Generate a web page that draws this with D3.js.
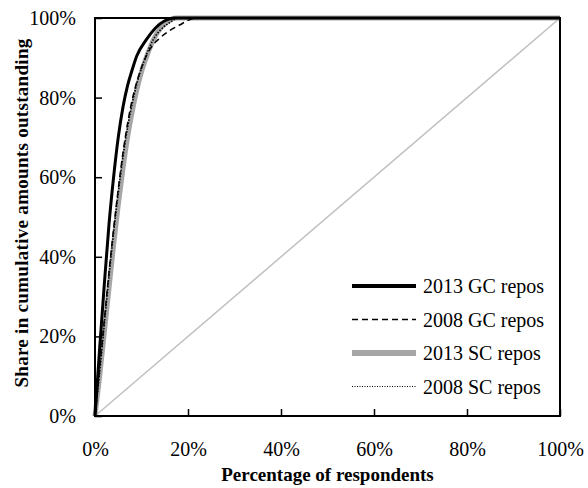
<!DOCTYPE html>
<html>
<head>
<meta charset="utf-8">
<script src="https://cdn.jsdelivr.net/npm/d3@7"></script>
<style>
  body { margin: 0; background: #fff; }
  svg text { font-family: "Liberation Serif", "Times New Roman", serif; fill: #000; }
</style>
</head>
<body>
<div id="chart"></div>
<script>
// cumulative distribution: share of respondents (x) vs share of amounts outstanding (y), in %
const gc2013X = [0, 1, 2, 3, 4, 5, 6, 7, 8, 9, 11, 13, 15, 17, 100];
const gc2013Y = [0, 17, 33, 48, 60, 70, 77.5, 83, 87, 90.5, 94.5, 97.5, 99.3, 100, 100];

const gc2008X = [0, 1, 2, 3, 4, 5, 6, 7, 8, 9, 10.3, 12, 13.8, 16, 18.3, 20, 22, 100];
const gc2008Y = [0, 12, 24, 36, 47, 57, 66, 73.5, 79.5, 84, 88.5, 92.5, 94.8, 96.8, 98.3, 99.4, 100, 100];

const sc2013X = [0, 1, 2, 3, 4, 5, 6, 7, 8, 9, 10, 11, 12, 13.5, 15.5, 17.5, 100];
const sc2013Y = [0, 10, 21, 32, 43, 53, 62, 70, 76.5, 82, 86.5, 90, 93, 96.5, 99, 100, 100];

const sc2008X = [0, 1, 2, 3, 4, 5, 6, 7, 8, 9, 10.5, 12.5, 14.5, 16, 18, 100];
const sc2008Y = [0, 11, 23, 35, 46, 56, 65, 72.5, 78.5, 83.5, 89, 94.5, 97.5, 98.8, 100, 100];

const equalityLine = [0, 100];
const xTicks = [0, 20, 40, 60, 80, 100];
const yTicks = [0, 20, 40, 60, 80, 100];

const width = 588, height = 488;
const margin = { top: 18, right: 28, bottom: 72, left: 95 };

const svg = d3.select('#chart').append('svg')
    .attr('width', width)
    .attr('height', height);

const x = d3.scaleLinear().domain([0, 100]).range([margin.left, width - margin.right]);
const y = d3.scaleLinear().domain([0, 100]).range([height - margin.bottom, margin.top]);

const fmt = d => d + '%';

// diagonal
svg.append('line')
    .attr('x1', x(equalityLine[0])).attr('y1', y(equalityLine[0]))
    .attr('x2', x(equalityLine[1])).attr('y2', y(equalityLine[1]))
    .attr('stroke', '#c0c0c0')
    .attr('stroke-width', 1.5);

const series = [
    { name: '2013 SC repos', xs: sc2013X, ys: sc2013Y, color: '#a6a6a6', w: 5, dash: null },
    { name: '2013 GC repos', xs: gc2013X, ys: gc2013Y, color: '#000', w: 3, dash: null },
    { name: '2008 GC repos', xs: gc2008X, ys: gc2008Y, color: '#000', w: 1.5, dash: '6,4' },
    { name: '2008 SC repos', xs: sc2008X, ys: sc2008Y, color: '#000', w: 1.6, dash: '1.5,1.5' }
];

const line = d3.line()
    .x(d => x(d[0]))
    .y(d => y(d[1]))
    .curve(d3.curveMonotoneX);

series.forEach(s => {
    svg.append('path')
        .datum(s.xs.map((v, i) => [v, s.ys[i]]))
        .attr('fill', 'none')
        .attr('stroke', s.color)
        .attr('stroke-width', s.w)
        .attr('stroke-dasharray', s.dash)
        .attr('stroke-linejoin', 'round')
        .attr('d', line);
});

// axes with inward ticks
const xAxis = svg.append('g')
    .attr('transform', `translate(0,${y(0)})`)
    .call(d3.axisBottom(x).tickValues(xTicks).tickSizeInner(-7).tickSizeOuter(0).tickPadding(26).tickFormat(fmt));
const yAxis = svg.append('g')
    .attr('transform', `translate(${x(0)},0)`)
    .call(d3.axisLeft(y).tickValues(yTicks).tickSizeInner(-7).tickSizeOuter(0).tickPadding(19).tickFormat(fmt));

[xAxis, yAxis].forEach(a => {
    a.select('.domain').remove();
    a.selectAll('.tick line').attr('stroke', '#000').attr('stroke-width', 1.5);
    a.selectAll('text').style('font-size', '20px');
});

// frame
svg.append('rect')
    .attr('x', x(0)).attr('y', y(100))
    .attr('width', x(100) - x(0)).attr('height', y(0) - y(100))
    .attr('fill', 'none')
    .attr('stroke', '#000')
    .attr('stroke-width', 2);

// axis titles
svg.append('text')
    .attr('x', (x(0) + x(100)) / 2)
    .attr('y', 481)
    .attr('text-anchor', 'middle')
    .style('font-size', '19px')
    .style('font-weight', 'bold')
    .text('Percentage of respondents');

svg.append('text')
    .attr('transform', `translate(28,${213}) rotate(-90)`)
    .attr('text-anchor', 'middle')
    .style('font-size', '19px')
    .style('font-weight', 'bold')
    .style('letter-spacing', '0.3px')
    .text('Share  in cumulative amounts outstanding');

// legend
const legendOrder = ['2013 GC repos', '2008 GC repos', '2013 SC repos', '2008 SC repos'];
const legend = svg.append('g');
legendOrder.forEach((name, i) => {
    const s = series.find(d => d.name === name);
    const ly = 286 + i * 33.5;
    legend.append('line')
        .attr('x1', 352).attr('x2', 416)
        .attr('y1', ly).attr('y2', ly)
        .attr('stroke', s.color)
        .attr('stroke-width', s.name === '2008 SC repos' ? 1 : s.w + (s.w > 2 ? 1 : 0))
        .attr('stroke-dasharray', s.name === '2008 SC repos' ? '1,1.5' : s.dash);
    legend.append('text')
        .attr('x', 423)
        .attr('y', ly)
        .attr('dy', '0.35em')
        .style('font-size', '20px')
        .text(name);
});
</script>
</body>
</html>
